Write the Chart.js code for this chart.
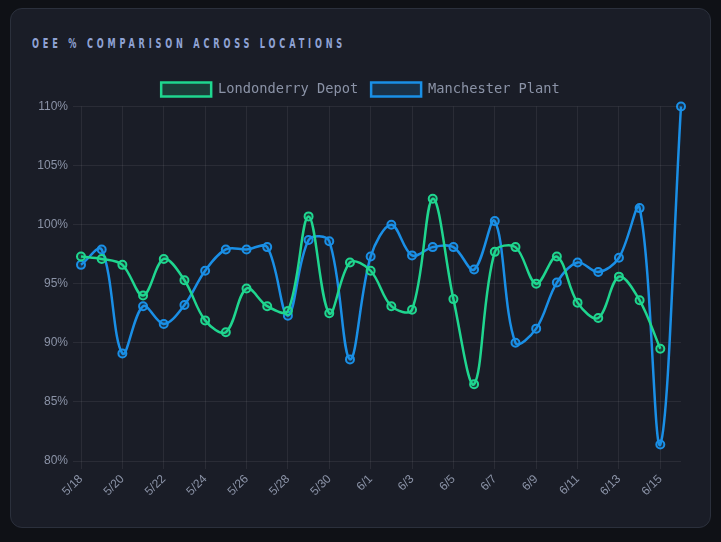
<!DOCTYPE html>
<html>
<head>
<meta charset="utf-8">
<script src="https://cdn.jsdelivr.net/npm/chart.js@4.4.0/dist/chart.umd.min.js"></script>
<style>
    html, body { margin: 0; padding: 0; background: #0f1116; width: 721px; height: 542px; overflow: hidden; }
    .card {
        position: absolute; left: 10px; top: 8px; width: 699px; height: 518px;
        background: #1a1d27; border: 1px solid #2b303c; border-radius: 12px;
    }
    .title {
        position: absolute; left: 21px; top: 26px; white-space: nowrap;
        font-family: "DejaVu Sans", sans-serif;
        font-weight: bold; font-size: 14px; letter-spacing: 6.5px; color: #8fa2d4;
        transform: scaleX(0.585); transform-origin: left top;
    }
    .wrap { position: absolute; left: 0px; top: 60px; width: 699px; height: 450px; }
</style>
</head>
<body>
<div class="card">
    <div class="title">OEE % COMPARISON ACROSS LOCATIONS</div>
    <div class="wrap"><canvas id="myChart"></canvas></div>
</div>
<script>
// dates 5/18 .. 6/16
const labels = ['5/18','5/19','5/20','5/21','5/22','5/23','5/24','5/25','5/26','5/27',
    '5/28','5/29','5/30','5/31','6/1','6/2','6/3','6/4','6/5','6/6',
    '6/7','6/8','6/9','6/10','6/11','6/12','6/13','6/14','6/15','6/16'];

const londonderry = [97.3, 97.1, 96.6, 94.0, 97.1, 95.3, 91.9, 90.9, 94.6, 93.1,
    92.7, 100.7, 92.5, 96.8, 96.1, 93.1, 92.8, 102.2, 93.7, 86.5,
    97.7, 98.1, 95.0, 97.3, 93.4, 92.1, 95.6, 93.6, 89.5, null];

const manchester = [96.6, 97.9, 89.1, 93.1, 91.6, 93.2, 96.1, 97.9, 97.9, 98.1,
    92.3, 98.7, 98.6, 88.6, 97.3, 100.0, 97.4, 98.1, 98.1, 96.2,
    100.3, 90.0, 91.2, 95.1, 96.8, 96.0, 97.2, 101.4, 81.4, 110.0];

const yTicks = [80, 85, 90, 95, 100, 105, 110];

const green = '#1fd68f';
const blue = '#1a8fe6';
const tickColor = '#8b93a7';
const gridColor = 'rgba(255,255,255,0.07)';

function makeSet(name, data, color, fill) {
    return {
        label: name,
        data: data,
        borderColor: color,
        backgroundColor: fill,
        pointBackgroundColor: fill,
        pointBorderColor: color,
        pointRadius: 4,
        pointBorderWidth: 2,
        pointHoverRadius: 5,
        borderWidth: 2.5,
        tension: 0.35,
        clip: 10
    };
}

var ctx = document.getElementById('myChart').getContext('2d');
var myChart = new Chart(ctx, {
    type: 'line',
    data: {
        labels: labels,
        datasets: [
            makeSet('Londonderry Depot', londonderry, green, 'rgba(31,214,143,0.18)'),
            makeSet('Manchester Plant', manchester, blue, 'rgba(26,143,230,0.18)')
        ]
    },
    options: {
        responsive: true,
        maintainAspectRatio: false,
        animation: false,
        layout: { padding: { left: 0, right: 0, top: 0.5, bottom: 0 } },
        plugins: {
            legend: {
                labels: {
                    color: tickColor,
                    boxWidth: 50,
                    boxHeight: 14,
                    padding: 13,
                    font: { family: '"DejaVu Sans Mono", "Liberation Mono", monospace', size: 13.7 }
                }
            },
            tooltip: { enabled: false }
        },
        scales: {
            x: {
                grid: { color: gridColor },
                border: { display: false },
                afterFit: function (scale) { scale.height = 58; },
                ticks: {
                    color: tickColor,
                    autoSkip: false,
                    maxRotation: 45,
                    minRotation: 45,
                    font: { family: '"Liberation Sans", Arial, sans-serif', size: 12 },
                    callback: function (val, index) {
                        return index % 2 === 0 ? labels[index] : null;
                    }
                }
            },
            y: {
                min: 80,
                max: 110,
                grid: { color: gridColor },
                border: { display: false },
                afterFit: function (scale) { scale.width = 70; },
                afterBuildTicks: function (scale) {
                    scale.ticks = yTicks.map(v => ({ value: v }));
                },
                ticks: {
                    color: tickColor,
                    padding: 5,
                    font: { family: '"Liberation Sans", Arial, sans-serif', size: 12 },
                    callback: function (v) { return v + '%'; }
                }
            },
            // empty spacer on the right so the plot stops short of the card edge
            yRight: {
                position: 'right',
                grid: { display: false },
                border: { display: false },
                ticks: { display: false },
                afterFit: function (scale) { scale.width = 29; }
            }
        }
    }
});
</script>
</body>
</html>
